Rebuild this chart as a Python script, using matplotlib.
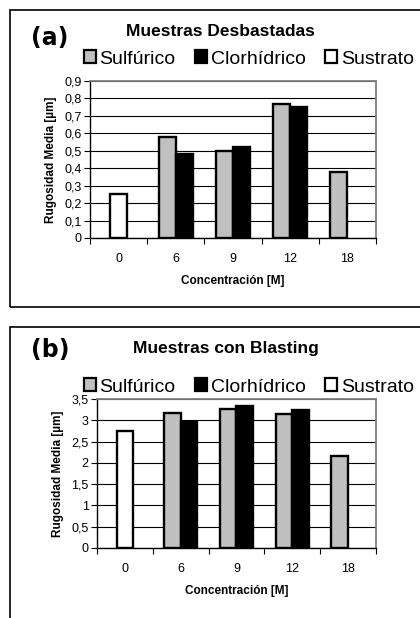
import matplotlib
matplotlib.use("Agg")
import matplotlib.pyplot as plt
from matplotlib.patches import Rectangle, Patch
import numpy as np

plt.rcParams['font.family'] = ['Liberation Sans', 'DejaVu Sans']

# data
conc = ['0', '6', '9', '12', '18']
series = ['Sulfúrico', 'Clorhídrico', 'Sustrato']

desb_sulf = [np.nan, 0.58, 0.50, 0.77, 0.38]
desb_clor = [np.nan, 0.48, 0.52, 0.75, np.nan]
desb_sust = [0.25, np.nan, np.nan, np.nan, np.nan]

blast_sulf = [np.nan, 3.16, 3.27, 3.14, 2.16]
blast_clor = [np.nan, 2.96, 3.34, 3.25, np.nan]
blast_sust = [2.75, np.nan, np.nan, np.nan, np.nan]

colors = ['#c0c0c0', '#000000', '#ffffff']

fig = plt.figure(figsize=(4.2, 6.18), dpi=100)
W, H = 420.0, 618.0


def px_axes(l, t, r, b):
    return fig.add_axes([l / W, 1 - b / H, (r - l) / W, (b - t) / H])


def draw_panel(ax, sulf, clor, sust, ymax, ystep, fmt, title, tag, ttl_y, leg_y, tag_y, title_x):
    x = np.arange(len(conc))
    w = 0.3
    kw = dict(edgecolor='black', linewidth=1.7, zorder=3)
    ax.bar(x - w / 2, sulf, w, color=colors[0], **kw)
    ax.bar(x + w / 2, clor, w, color=colors[1], **kw)
    ax.bar(x, sust, w, color=colors[2], **kw)

    ax.set_xlim(-0.5, len(conc) - 0.5)
    ax.set_ylim(0, ymax)
    yt = np.arange(0, ymax + ystep / 2, ystep)
    ax.set_yticks(yt)
    ax.set_yticklabels([fmt(v).replace('.', ',') for v in yt], fontsize=9)
    ax.yaxis.grid(True, color='black', linewidth=0.8, zorder=0)
    ax.set_axisbelow(True)

    ax.set_xticks(x)
    ax.set_xticklabels(conc, fontsize=9)
    ax.tick_params(axis='x', which='major', length=0, pad=11)
    ax.set_xticks(np.arange(-0.5, len(conc), 1.0), minor=True)
    ax.tick_params(axis='x', which='minor', length=4, width=0.8, direction='out')
    ax.tick_params(axis='y', length=4, width=0.8, pad=2)

    for s in ['top', 'right']:
        ax.spines[s].set_color('#808080')
        ax.spines[s].set_linewidth(1.3)
    for s in ['left', 'bottom']:
        ax.spines[s].set_color('black')
        ax.spines[s].set_linewidth(1.0)

    ax.set_xlabel('Concentración [M]', fontsize=8.5, fontweight='bold', labelpad=7)
    ax.set_ylabel('Rugosidad Media [µm]', fontsize=8.5, fontweight='bold', labelpad=5)

    fig.text(title_x / W, 1 - ttl_y / H, title, fontsize=12.5, fontweight='bold',
             ha='center', va='center')
    fig.text(31 / W, 1 - tag_y / H, tag, fontsize=17, fontweight='bold',
             family='DejaVu Sans', ha='left', va='center')

    handles = [Patch(facecolor=c, edgecolor='black', linewidth=1.6) for c in colors]
    fig.legend(handles, series, loc='center', bbox_to_anchor=(249 / W, 1 - leg_y / H),
               ncol=3, frameon=False, fontsize=14, handlelength=0.62, handleheight=0.62,
               handletextpad=0.2, columnspacing=1.0, borderaxespad=0)


ax1 = px_axes(90, 81, 376, 238)
draw_panel(ax1, desb_sulf, desb_clor, desb_sust, 0.9, 0.1, lambda v: f'{v:.1f}' if v else '0',
           'Muestras Desbastadas', '(a)', 31, 59, 38, 220)

ax2 = px_axes(97, 399, 376, 548)
draw_panel(ax2, blast_sulf, blast_clor, blast_sust, 3.5, 0.5,
           lambda v: (f'{v:g}'),
           'Muestras con Blasting', '(b)', 348, 387, 350, 226)

# panel frames
fig.patches.append(Rectangle((9.5 / W, 1 - 307 / H), 1.0, (307 - 10) / H,
                             transform=fig.transFigure, fill=False,
                             edgecolor='black', linewidth=1.2))
fig.patches.append(Rectangle((9.5 / W, -0.1), 1.0, 1 - 327 / H + 0.1,
                             transform=fig.transFigure, fill=False,
                             edgecolor='black', linewidth=1.2))

fig.savefig('out.png', dpi=100)
